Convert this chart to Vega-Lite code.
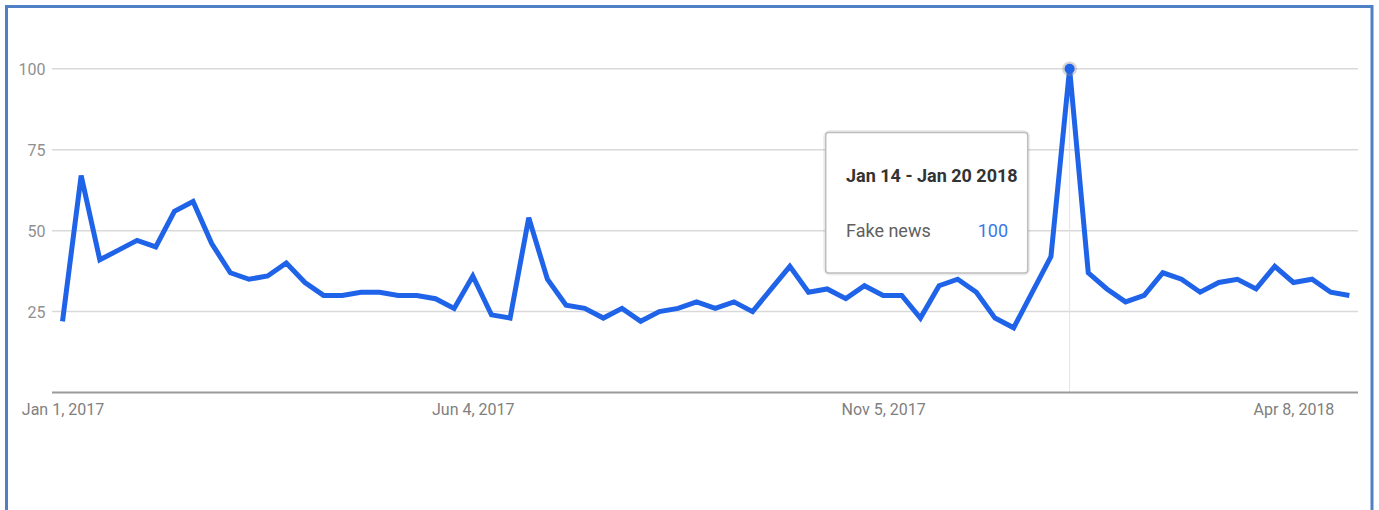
{
  "$schema": "https://vega.github.io/schema/vega-lite/v6.json",
  "width": 1365.5,
  "height": 510,
  "autosize": {"type": "none"},
  "padding": {"left": 6.5, "top": 6.5, "right": 7, "bottom": -6.5},
  "background": "white",
  "config": {
    "view": {"stroke": "#4f7fc4", "strokeWidth": 3, "fill": "white"},
    "font": "Roboto, sans-serif",
    "axis": {"titleFontSize": 0, "titleOpacity": 0}
  },
  "datasets": {
    "trend": [
      {"week": "2017-01-01", "value": 22}, {"week": "2017-01-08", "value": 67}, {"week": "2017-01-15", "value": 41},
      {"week": "2017-01-22", "value": 44}, {"week": "2017-01-29", "value": 47}, {"week": "2017-02-05", "value": 45},
      {"week": "2017-02-12", "value": 56}, {"week": "2017-02-19", "value": 59}, {"week": "2017-02-26", "value": 46},
      {"week": "2017-03-05", "value": 37}, {"week": "2017-03-12", "value": 35}, {"week": "2017-03-19", "value": 36},
      {"week": "2017-03-26", "value": 40}, {"week": "2017-04-02", "value": 34}, {"week": "2017-04-09", "value": 30},
      {"week": "2017-04-16", "value": 30}, {"week": "2017-04-23", "value": 31}, {"week": "2017-04-30", "value": 31},
      {"week": "2017-05-07", "value": 30}, {"week": "2017-05-14", "value": 30}, {"week": "2017-05-21", "value": 29},
      {"week": "2017-05-28", "value": 26}, {"week": "2017-06-04", "value": 36}, {"week": "2017-06-11", "value": 24},
      {"week": "2017-06-18", "value": 23}, {"week": "2017-06-25", "value": 54}, {"week": "2017-07-02", "value": 35},
      {"week": "2017-07-09", "value": 27}, {"week": "2017-07-16", "value": 26}, {"week": "2017-07-23", "value": 23},
      {"week": "2017-07-30", "value": 26}, {"week": "2017-08-06", "value": 22}, {"week": "2017-08-13", "value": 25},
      {"week": "2017-08-20", "value": 26}, {"week": "2017-08-27", "value": 28}, {"week": "2017-09-03", "value": 26},
      {"week": "2017-09-10", "value": 28}, {"week": "2017-09-17", "value": 25}, {"week": "2017-09-24", "value": 32},
      {"week": "2017-10-01", "value": 39}, {"week": "2017-10-08", "value": 31}, {"week": "2017-10-15", "value": 32},
      {"week": "2017-10-22", "value": 29}, {"week": "2017-10-29", "value": 33}, {"week": "2017-11-05", "value": 30},
      {"week": "2017-11-12", "value": 30}, {"week": "2017-11-19", "value": 23}, {"week": "2017-11-26", "value": 33},
      {"week": "2017-12-03", "value": 35}, {"week": "2017-12-10", "value": 31}, {"week": "2017-12-17", "value": 23},
      {"week": "2017-12-24", "value": 20}, {"week": "2017-12-31", "value": 31}, {"week": "2018-01-07", "value": 42},
      {"week": "2018-01-14", "value": 100}, {"week": "2018-01-21", "value": 37}, {"week": "2018-01-28", "value": 32},
      {"week": "2018-02-04", "value": 28}, {"week": "2018-02-11", "value": 30}, {"week": "2018-02-18", "value": 37},
      {"week": "2018-02-25", "value": 35}, {"week": "2018-03-04", "value": 31}, {"week": "2018-03-11", "value": 34},
      {"week": "2018-03-18", "value": 35}, {"week": "2018-03-25", "value": 32}, {"week": "2018-04-01", "value": 39},
      {"week": "2018-04-08", "value": 34}, {"week": "2018-04-15", "value": 35}, {"week": "2018-04-22", "value": 31},
      {"week": "2018-04-29", "value": 30}
    ],
    "grid": [{"level": 25}, {"level": 50}, {"level": 75}, {"level": 100}]
  },
  "layer": [
    {
      "data": {"name": "grid"},
      "mark": {"type": "rule", "color": "#d9d9d9", "strokeWidth": 1.5},
      "encoding": {
        "x": {"datum": 1482888297600, "type": "temporal", "scale": {"type": "utc"}},
        "x2": {"datum": 1525240627200},
        "y": {"field": "level", "type": "quantitative"}
      }
    },
    {
      "data": {"name": "trend"},
      "transform": [{"filter": "datum.value == 100"}],
      "mark": {"type": "rule", "color": "#e3e3e3", "strokeWidth": 1},
      "encoding": {
        "x": {"field": "week", "type": "temporal", "scale": {"type": "utc"}},
        "y": {"field": "value", "type": "quantitative"},
        "y2": {"datum": 0}
      }
    },
    {
      "data": {"name": "grid"},
      "transform": [{"filter": "datum.level == 25"}],
      "mark": {"type": "rule", "color": "#9a9a9a", "strokeWidth": 2},
      "encoding": {
        "x": {"datum": 1482888297600, "type": "temporal", "scale": {"type": "utc"}},
        "x2": {"datum": 1525240627200},
        "y": {"datum": 0, "type": "quantitative"}
      }
    },
    {
      "data": {"name": "trend"},
      "mark": {"type": "line", "color": "#1f63e8", "strokeWidth": 5},
      "encoding": {
        "x": {
          "field": "week", "type": "temporal",
          "scale": {"type": "utc", "domain": [1481412767040, 1525694227200], "nice": false},
          "axis": {
            "title": null, "grid": false, "domain": false, "ticks": false, "tickSize": 0,
            "offset": -123.9, "labelPadding": 9, "labelFontSize": 16, "labelColor": "#808080",
            "labelFlush": false, "labelOverlap": false, "labelAlign": "center",
            "values": [1483228800000, 1496534400000, 1509840000000, 1523145600000],
            "format": "%b %-d, %Y"
          }
        },
        "y": {
          "field": "value", "type": "quantitative",
          "scale": {"domain": [-38.29, 119.25], "nice": false, "zero": false},
          "axis": {
            "title": null, "grid": false, "domain": false, "ticks": false, "tickSize": 0,
            "offset": -45.5, "labelPadding": 7, "labelFontSize": 16, "labelColor": "#909090",
            "labelOffset": 1, "values": [25, 50, 75, 100]
          }
        }
      }
    },
    {
      "data": {"name": "trend"},
      "transform": [{"filter": "datum.value == 100"}],
      "mark": {"type": "point", "filled": true, "color": "#8a8a8a", "opacity": 0.35, "size": 220},
      "encoding": {
        "x": {"field": "week", "type": "temporal", "scale": {"type": "utc"}},
        "y": {"field": "value", "type": "quantitative"}
      }
    },
    {
      "data": {"name": "trend"},
      "transform": [{"filter": "datum.value == 100"}],
      "mark": {"type": "point", "filled": true, "color": "#1f63e8", "opacity": 1, "size": 100},
      "encoding": {
        "x": {"field": "week", "type": "temporal", "scale": {"type": "utc"}},
        "y": {"field": "value", "type": "quantitative"}
      }
    },
    {
      "data": {"name": "grid"},
      "transform": [{"filter": "datum.level == 100"}],
      "mark": {"type": "rect", "fill": "white", "stroke": "#000000", "strokeOpacity": 0.07, "strokeWidth": 5, "cornerRadius": 4},
      "encoding": {
        "x": {"datum": 1507978425600, "type": "temporal", "scale": {"type": "utc"}},
        "x2": {"datum": 1514529014400},
        "y": {"datum": 80.32, "type": "quantitative"},
        "y2": {"datum": 36.96}
      }
    },
    {
      "data": {"name": "grid"},
      "transform": [{"filter": "datum.level == 100"}],
      "mark": {"type": "rect", "fill": "white", "stroke": "#bdbdbd", "strokeWidth": 1.5, "cornerRadius": 3},
      "encoding": {
        "x": {"datum": 1507978425600, "type": "temporal", "scale": {"type": "utc"}},
        "x2": {"datum": 1514529014400},
        "y": {"datum": 80.32, "type": "quantitative"},
        "y2": {"datum": 36.96}
      }
    },
    {
      "data": {"name": "grid"},
      "transform": [{"filter": "datum.level == 100"}],
      "mark": {"type": "text", "text": "Jan 14 - Jan 20 2018", "align": "left", "baseline": "middle", "fontSize": 18, "fontWeight": "bold", "color": "#333333"},
      "encoding": {
        "x": {"datum": 1508637052800, "type": "temporal", "scale": {"type": "utc"}},
        "y": {"datum": 66.72, "type": "quantitative"}
      }
    },
    {
      "data": {"name": "grid"},
      "transform": [{"filter": "datum.level == 100"}],
      "mark": {"type": "text", "text": "Fake news", "align": "left", "baseline": "middle", "fontSize": 18, "color": "#5f5f5f"},
      "encoding": {
        "x": {"datum": 1508637052800, "type": "temporal", "scale": {"type": "utc"}},
        "y": {"datum": 49.72, "type": "quantitative"}
      }
    },
    {
      "data": {"name": "trend"},
      "transform": [{"filter": "datum.value == 100"}],
      "mark": {"type": "text", "align": "right", "baseline": "middle", "fontSize": 18, "color": "#3b78e7"},
      "encoding": {
        "text": {"field": "value", "type": "quantitative"},
        "x": {"datum": 1513890345600, "type": "temporal", "scale": {"type": "utc"}},
        "y": {"datum": 49.72, "type": "quantitative"}
      }
    }
  ]
}
